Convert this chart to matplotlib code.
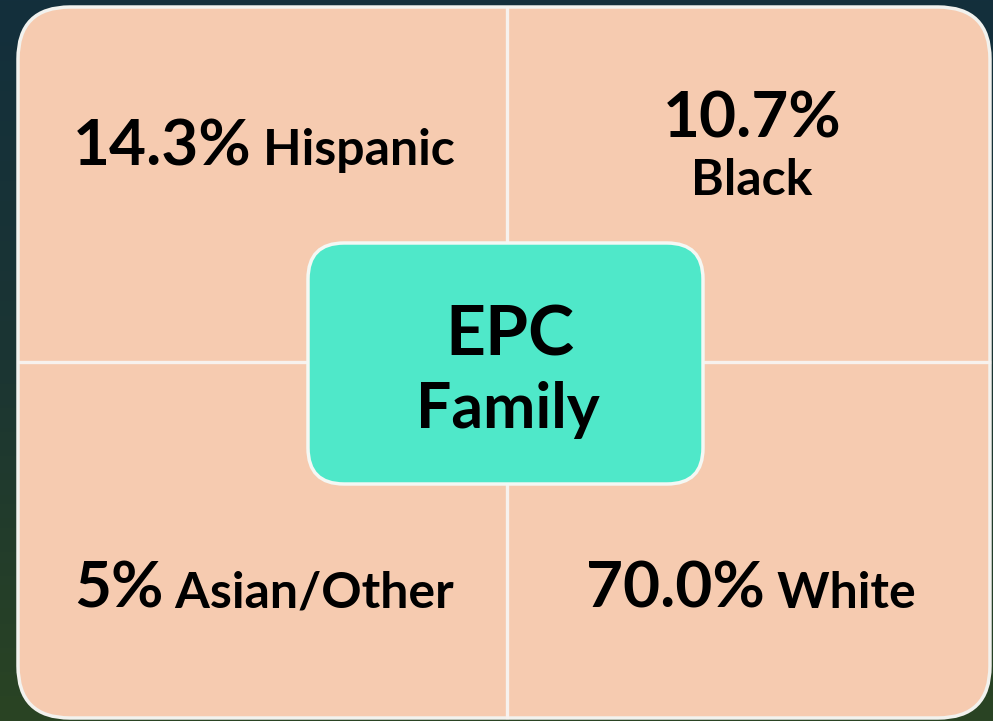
import numpy as np
import matplotlib
matplotlib.use("Agg")
from matplotlib import pyplot as plt
from matplotlib.patches import FancyBboxPatch
from matplotlib.colors import LinearSegmentedColormap

# quadrant data (top-left, top-right, bottom-left, bottom-right)
percents = ["14.3%", "10.7%", "5%", "70.0%"]
groups = ["Hispanic", "Black", "Asian/Other", "White"]
center_lines = ["EPC", "Family"]

W, H = 993, 721
fig = plt.figure(figsize=(W / 100, H / 100), dpi=100)
ax = fig.add_axes([0, 0, 1, 1])
ax.set_xlim(0, W)
ax.set_ylim(H, 0)
ax.axis("off")

# dark gradient background, teal at top to green at bottom
cmap = LinearSegmentedColormap.from_list("bg", ["#132f3c", "#1b3533", "#2a4423"])
grad = np.linspace(0, 1, 256).reshape(-1, 1)
ax.imshow(grad, cmap=cmap, extent=[0, W, H, 0], aspect="auto", zorder=0)

peach = "#f6cbb0"
x0, y0, x1, y1 = 18, 7, 990, 718
outer = FancyBboxPatch((x0, y0), x1 - x0, y1 - y0,
                       boxstyle="round,pad=0,rounding_size=52",
                       fc=peach, ec="#f2f2ee", lw=2.5, zorder=1)
ax.add_patch(outer)

# white dividers between the four quadrants
xm, ym = 507, 362
ax.plot([xm, xm], [y0 + 1, y1 - 1], color="#f7f2ee", lw=2.4, zorder=2)
ax.plot([x0 + 1, x1 - 1], [ym, ym], color="#f7f2ee", lw=2.4, zorder=2)

# center box
inner = FancyBboxPatch((308, 243), 395, 241,
                       boxstyle="round,pad=0,rounding_size=36",
                       fc="#4fe8c9", ec="#f4f8f4", lw=2.5, zorder=3)
ax.add_patch(inner)

font = "Lato"
big, small = 46, 36

fig.canvas.draw()
renderer = fig.canvas.get_renderer()


def two_part(cx, base, a, b):
    t1 = ax.text(0, base, a, fontsize=big, fontweight="bold", family=font,
                 ha="left", va="baseline", zorder=4)
    t2 = ax.text(0, base, " " + b, fontsize=small, fontweight="bold", family=font,
                 ha="left", va="baseline", zorder=4)
    w1 = t1.get_window_extent(renderer).width
    w2 = t2.get_window_extent(renderer).width
    left = cx - (w1 + w2) / 2
    t1.set_x(left)
    t2.set_x(left + w1)


two_part(264, 165, percents[0], groups[0])
ax.text(752, 137, percents[1], fontsize=big, fontweight="bold", family=font,
        ha="center", va="baseline", zorder=4)
ax.text(752, 195, groups[1], fontsize=small, fontweight="bold", family=font,
        ha="center", va="baseline", zorder=4)
two_part(264, 608, percents[2], groups[2])
two_part(751, 608, percents[3], groups[3])

ax.text(510, 355, center_lines[0], fontsize=50, fontweight="bold", family=font,
        ha="center", va="baseline", zorder=4)
ax.text(508, 428, center_lines[1], fontsize=45, fontweight="bold", family=font,
        ha="center", va="baseline", zorder=4)

fig.savefig("out.png", dpi=100)
